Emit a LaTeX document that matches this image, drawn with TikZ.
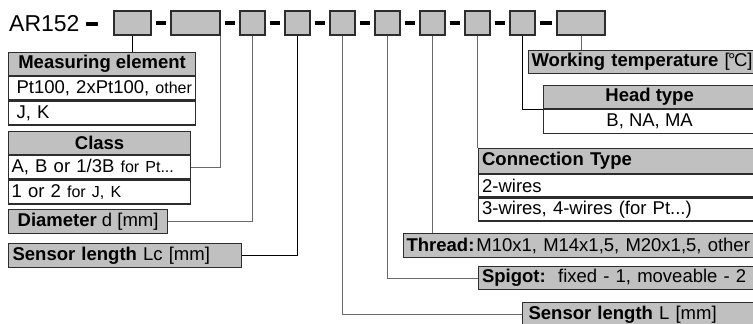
\documentclass[tikz,border=0pt]{standalone}
\usepackage{fontspec}
\setmainfont{Liberation Sans}
\usetikzlibrary{calc}
\definecolor{boxgray}{RGB}{192,192,192}
\definecolor{edge}{RGB}{45,45,45}
\definecolor{wiregray}{RGB}{105,105,105}
\newcommand{\smalltxt}[1]{{\fontsize{16}{18}\selectfont #1}}
\tikzset{
  cell/.style={draw=edge, line width=1.2pt, fill=white, inner xsep=4pt, inner ysep=0pt,
    minimum height=23pt, anchor=north west, font=\fontsize{18.5}{20}\selectfont},
  hdr/.style={cell, fill=boxgray, font=\fontsize{18.5}{20}\selectfont\bfseries},
  codebox/.style={draw=edge, line width=1.2pt, fill=boxgray, minimum height=24pt, inner sep=0pt},
  wire/.style={draw=wiregray, line width=1pt},
  wireblk/.style={draw=black, line width=1pt},
  bar/.style={line width=3.4pt, black},
}
\begin{document}
\begin{tikzpicture}[x=1pt, y=-1pt]
\useasboundingbox (0,0) rectangle (753,324);
\clip (0,0) rectangle (753,324);
\node[anchor=west, inner sep=0pt, font=\fontsize{23}{26}\selectfont] (ar) at (9,24) {AR152};
\draw[bar] ([xshift=6pt]ar.east) -- ++(12,0);
\node[codebox, minimum width=37pt] (b1) at (132.5,23) {};
\node[codebox, minimum width=49pt] (b2) at (195.5,23) {};
\foreach \i in {3,...,9}
  \node[codebox, minimum width=25pt] (b\i) at ({252.5+45*(\i-3)},23) {};
\node[codebox, minimum width=48pt] (b10) at (581,23) {};
\foreach \i [count=\j from 2] in {1,...,9}
  \draw[bar] ([xshift=4pt]b\i.east) -- ([xshift=-4pt]b\j.west);

\node[hdr, minimum width=187pt] (meas) at (8,52) {Measuring element};
\node[cell, text width=181pt, align=left, inner xsep=3pt] (meas1) at (meas.south west) {\hspace*{5pt}Pt100, 2xPt100, \smalltxt{other}};
\node[cell, text width=181pt, align=left, inner xsep=3pt, minimum height=24pt] (meas2) at (meas1.south west) {\hspace*{5pt}J, K};
\node[hdr, minimum width=182pt] (cls) at (8,131) {Class};
\node[cell, text width=176pt, align=left, inner xsep=3pt] (cls1) at (cls.south west) {A, B or 1/3B \smalltxt{for Pt...}};
\node[cell, text width=176pt, align=left, inner xsep=3pt, minimum height=24pt] (cls2) at (cls1.south west) {1 or 2 \smalltxt{for J, K}};
\node[hdr, minimum width=159pt, minimum height=24pt] (dia) at (8,209) {Diameter \textmd{d [mm]}};
\node[hdr, text width=225pt, align=left, minimum height=24pt] (lc) at (8,243) {Sensor length \textmd{Lc [mm]}};

\node[hdr, text width=232pt, align=left, inner xsep=3pt] (work) at (528,50) {Working temperature \textmd{[\kern-1.5pt\textdegree\kern-1.5pt C]}};
\node[hdr, minimum width=212pt] (head) at (543,85) {Head type};
\node[cell, minimum width=212pt, minimum height=24pt] (head1) at (head.south west) {B, NA, MA};
\node[hdr, text width=270.5pt, align=left, minimum height=25pt] (conn) at (477.5,148) {Connection Type};
\node[cell, text width=270.5pt, align=left, minimum height=22pt] (conn1) at (conn.south west) {2-wires};
\node[cell, text width=270.5pt, align=left] (conn2) at (conn1.south west) {3-wires, 4-wires (for Pt...)};
\node[hdr, text width=347pt, align=left, inner xsep=3pt, minimum height=24pt] (thr) at (403,233) {Thread:\kern2pt\textmd{M10x1, M14x1,5, M20x1,5, other}};
\node[hdr, text width=270.5pt, align=left] (spig) at (477.5,266) {Spigot:\ \ \textmd{fixed - 1, moveable - 2}};
\node[hdr, text width=222pt, align=left, inner xsep=6pt, minimum height=24pt] (lenL) at (522,302) {Sensor length \textmd{L [mm]}};

\draw[wireblk] (b1.south) -- (b1.south |- meas.north);
\draw[wire] (b2.south east) |- (cls1.east);
\draw[wire] (b3.south) |- (dia.east);
\draw[wireblk] (b4.south) |- (lc.east);
\draw[wire] (b5.south) |- (lenL.west);
\draw[wire] (b6.south) |- (spig.west);
\draw[wire] (b7.south) -- (b7.south |- thr.north);
\draw[wire] (b8.south) -- (b8.south |- conn.north);
\draw[wireblk] (b9.south) |- (head.south west);
\draw[wire] (b10.south) -- (b10.south |- work.north);
\end{tikzpicture}
\end{document}
